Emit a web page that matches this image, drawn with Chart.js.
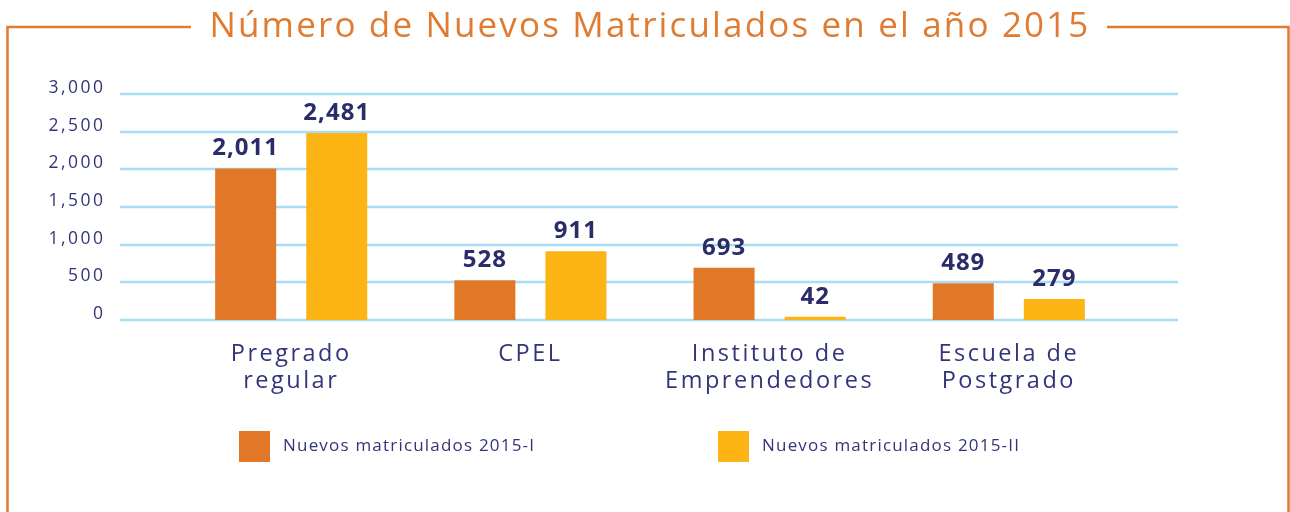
<!DOCTYPE html>
<html><head><meta charset="utf-8">
<script src="https://cdn.jsdelivr.net/npm/chart.js@4.4.0/dist/chart.umd.min.js"></script>
<style>html,body{margin:0;padding:0;background:#fff;overflow:hidden}</style>
</head><body>
<canvas id="c" width="1290" height="512"></canvas>
<script>
const titleText = 'Número de Nuevos Matriculados en el año 2015';
const categories = [['Pregrado','regular'], ['CPEL'], ['Instituto de','Emprendedores'], ['Escuela de','Postgrado']];
const seriesLabels = ['Nuevos matriculados 2015-I', 'Nuevos matriculados 2015-II'];
const values2015I = [2011, 528, 693, 489];
const values2015II = [2481, 911, 42, 279];
const yTickValues = [0, 500, 1000, 1500, 2000, 2500, 3000];

const ORANGE = '#E07828';
const YELLOW = '#FDB515';
const NAVY = '#2B2D6B';
const TICKNAVY = '#33357A';
const GRID = '#A9DDF5';
const FRAME = '#E07B32';
const FONT = '"Open Sans", "DejaVu Sans", sans-serif';

const fmt = v => v.toLocaleString('en-US');

const framePlugin = {
  id: 'frame',
  beforeDraw(chart) {
    const ctx = chart.ctx;
    ctx.save();
    ctx.fillStyle = '#fff';
    ctx.fillRect(0, 0, chart.width, chart.height);
    ctx.strokeStyle = FRAME;
    ctx.lineWidth = 2.5;
    ctx.beginPath();
    ctx.moveTo(7.5, 512); ctx.lineTo(7.5, 27); ctx.lineTo(191, 27);
    ctx.moveTo(1107, 27); ctx.lineTo(1288.5, 27); ctx.lineTo(1288.5, 512);
    ctx.stroke();
    ctx.fillStyle = FRAME;
    ctx.font = '400 35px ' + FONT;
    ctx.letterSpacing = '2.15px';
    ctx.textAlign = 'center';
    ctx.textBaseline = 'middle';
    ctx.fillText(titleText, 650, 27);
    ctx.restore();
    // wider tracking for axis labels drawn by Chart.js
    ctx.letterSpacing = '2.5px';
  }
};

const gridPlugin = {
  id: 'wideGrid',
  beforeDatasetsDraw(chart) {
    const ctx = chart.ctx, y = chart.scales.y;
    ctx.save();
    ctx.strokeStyle = GRID;
    ctx.lineWidth = 2.5;
    y.ticks.forEach(t => {
      const py = Math.round(y.getPixelForValue(t.value));
      ctx.beginPath();
      ctx.moveTo(120, py); ctx.lineTo(1178, py);
      ctx.stroke();
    });
    ctx.restore();
  }
};

const valuePlugin = {
  id: 'values',
  afterDatasetsDraw(chart) {
    const ctx = chart.ctx;
    ctx.save();
    ctx.fillStyle = NAVY;
    ctx.font = 'bold 24px ' + FONT;
    ctx.letterSpacing = '1px';
    ctx.textAlign = 'center';
    ctx.textBaseline = 'bottom';
    chart.data.datasets.forEach((ds, i) => {
      chart.getDatasetMeta(i).data.forEach((bar, j) => {
        ctx.fillText(fmt(ds.data[j]), bar.x, bar.y - 8);
      });
    });
    ctx.restore();
  }
};

const legendPlugin = {
  id: 'customLegend',
  afterDraw(chart) {
    const ctx = chart.ctx;
    const starts = [239, 718];
    ctx.save();
    ctx.font = '17px ' + FONT;
    ctx.letterSpacing = '1.2px';
    ctx.textBaseline = 'middle';
    ctx.textAlign = 'left';
    chart.data.datasets.forEach((ds, i) => {
      ctx.fillStyle = ds.backgroundColor;
      ctx.fillRect(starts[i], 431, 31, 31);
      ctx.fillStyle = TICKNAVY;
      ctx.fillText(ds.label, starts[i] + 44, 446);
    });
    ctx.restore();
    ctx.letterSpacing = '0px';
  }
};

new Chart(document.getElementById('c'), {
  type: 'bar',
  data: {
    labels: categories,
    datasets: [
      { label: seriesLabels[0], data: values2015I, backgroundColor: ORANGE },
      { label: seriesLabels[1], data: values2015II, backgroundColor: YELLOW }
    ]
  },
  options: {
    responsive: false,
    animation: false,
    devicePixelRatio: 1,
    categoryPercentage: 0.7615,
    barPercentage: 0.67,
    layout: { padding: { left: 0, right: 161.6, top: 94, bottom: 92 } },
    plugins: { legend: { display: false }, tooltip: { enabled: false }, title: { display: false } },
    scales: {
      x: {
        grid: { display: false, drawTicks: false },
        border: { display: false },
        ticks: { color: TICKNAVY, font: { family: FONT, size: 23.5, lineHeight: 1.18 }, padding: 20, maxRotation: 0, autoSkip: false },
        afterFit: s => { s.height = 100; }
      },
      y: {
        min: 0, max: 3000,
        grid: { display: false, drawTicks: false },
        border: { display: false },
        afterBuildTicks: s => { s.ticks = yTickValues.map(v => ({ value: v })); },
        ticks: { color: TICKNAVY, font: { family: FONT, size: 17.5 }, padding: 66, labelOffset: -6, callback: v => fmt(v) },
        afterFit: s => { s.width = 171.6; }
      }
    }
  },
  plugins: [framePlugin, gridPlugin, valuePlugin, legendPlugin]
});
</script>
</body></html>
